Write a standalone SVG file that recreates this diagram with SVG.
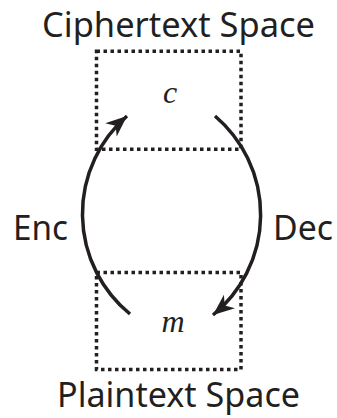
<svg xmlns="http://www.w3.org/2000/svg" width="337" height="418" viewBox="0 0 337 418">
<style>
.lbl{font-family:"Noto Sans","Open Sans",sans-serif;font-size:34px;fill:#231f20;}
.var{font-family:"Liberation Serif",serif;font-style:italic;font-size:32px;fill:#231f20;}
.box{fill:none;stroke:#231f20;stroke-width:3.5;stroke-dasharray:3.5 3.5;}
.arc{fill:none;stroke:#231f20;stroke-width:3.5;}
</style>
<defs>
<marker id="ah" markerUnits="userSpaceOnUse" markerWidth="30" markerHeight="30" refX="0" refY="0" viewBox="-20 -10 24 20" orient="auto" overflow="visible">
<path d="M0,0 L-17,-7 L-12,0 L-17,7 Z" fill="#231f20"/>
</marker>
</defs>
<g id="ciphertext">
<rect class="box" x="96.5" y="51.3" width="144.5" height="98"/>
<text class="var" x="170" y="103" text-anchor="middle">c</text>
<text class="lbl" x="42" y="37" textLength="273" lengthAdjust="spacingAndGlyphs">Ciphertext Space</text>
</g>
<g id="plaintext">
<rect class="box" x="96.5" y="272.5" width="144.5" height="97"/>
<text class="var" x="173" y="332" text-anchor="middle">m</text>
<text class="lbl" x="57" y="407" textLength="243" lengthAdjust="spacingAndGlyphs">Plaintext Space</text>
</g>
<g id="connectors">
<path class="arc" d="M130,314 A129.5,129.5 0 0 1 127,116" marker-end="url(#ah)"/>
<path class="arc" d="M215,116 A129.5,129.5 0 0 1 213,315" marker-end="url(#ah)"/>
</g>
<g id="labels">
<text class="lbl" x="13" y="240" textLength="55" lengthAdjust="spacingAndGlyphs">Enc</text>
<text class="lbl" x="273" y="240" textLength="60" lengthAdjust="spacingAndGlyphs">Dec</text>
</g>
</svg>
